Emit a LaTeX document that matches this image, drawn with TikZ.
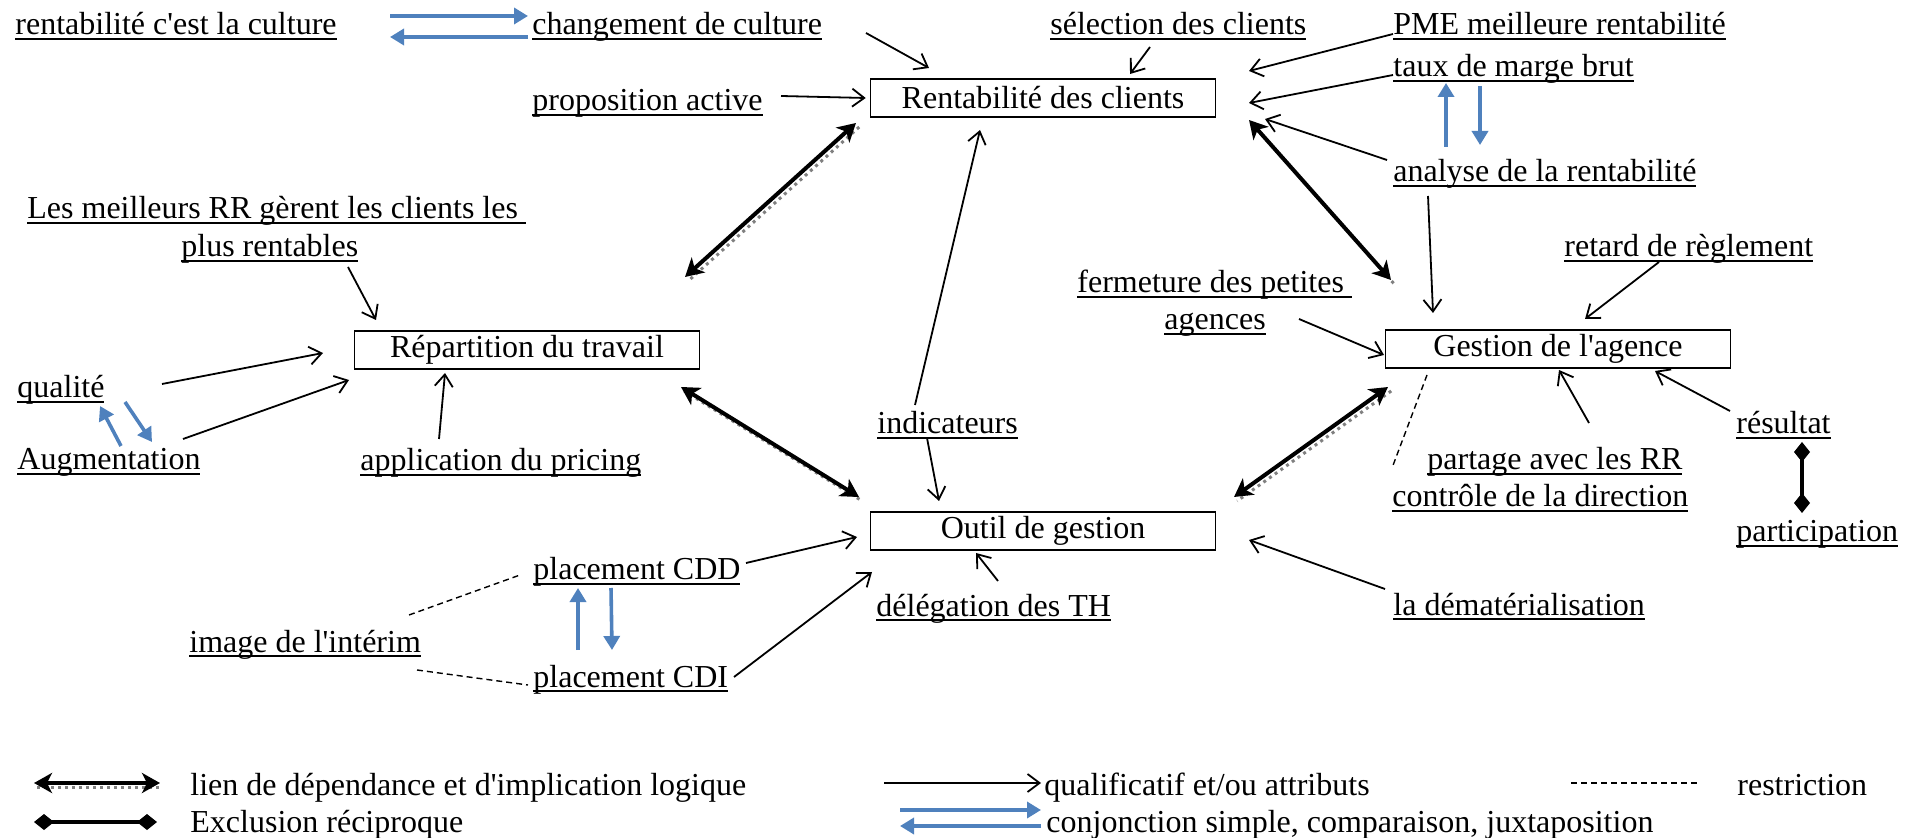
\documentclass[tikz,border=0pt]{standalone}
\usepackage{fontspec}
\setmainfont{Liberation Serif}
\usepackage{tikz}
\usetikzlibrary{arrows.meta,calc}
\definecolor{conj}{HTML}{4F81BD}
\newsavebox\ulbox
\newcommand{\souligne}[1]{\raisebox{-1.5pt}{\sbox\ulbox{#1}\usebox\ulbox\llap{\rule[-2.4pt]{\wd\ulbox}{1pt}}}}
\tikzset{
  boite/.style={draw,line width=0.8pt,minimum width=172.5pt,minimum height=19pt,inner sep=0pt},
  etiq/.style={anchor=base west,inner sep=0pt},
  qualif/.style={line width=0.9pt,-{Straight Barb[length=6pt,width=9pt]}},
  lien/.style={line width=2pt,{Stealth[length=9pt,width=10pt,inset=2.5pt]}-{Stealth[length=9pt,width=10pt,inset=2.5pt]},
    preaction={-,draw=black!50,dotted,line width=1.5pt,transform canvas={shift={(1.6pt,-2pt)}}}},
  conjonction/.style={draw=conj,line width=1.8pt,-{Triangle[length=7pt,width=8pt]}},
  exclusion/.style={line width=1.6pt,{Diamond[length=10pt,width=8pt]}-{Diamond[length=10pt,width=8pt]}},
  restriction/.style={line width=0.7pt,dash pattern=on 3pt off 2pt},
}
\begin{document}
\begin{tikzpicture}[x=0.5pt,y=-0.5pt,font=\fontsize{16}{19}\selectfont]
  \useasboundingbox (0,0) rectangle (1925,838);
  % les quatre concepts
  \node[boite] (rent)   at (1043,98)  {\raisebox{-1pt}{Rentabilité des clients}};
  \node[boite] (repart) at (527,350)  {\raisebox{-1pt}{Répartition du travail}};
  \node[boite] (gest)   at (1558,349) {\raisebox{-1pt}{Gestion de l\textquotesingle agence}};
  \node[boite] (outil)  at (1043,531) {\raisebox{-1pt}{Outil de gestion}};
  % attributs
  \node[etiq] (cult)     at (15,32)    {\souligne{rentabilité c\textquotesingle est la culture}};
  \node[etiq] (chg)      at (532,32)   {\souligne{changement de culture}};
  \node[etiq] (prop)     at (532,108)  {\souligne{proposition active}};
  \node[etiq] (sel)      at (1050,32)  {\souligne{sélection des clients}};
  \node[etiq] (pme)      at (1393,32)  {\souligne{PME meilleure rentabilité}};
  \node[etiq] (taux)     at (1393,74)  {\souligne{taux de marge brut}};
  \node[etiq] (anal)     at (1393,179) {\souligne{analyse de la rentabilité}};
  \node[etiq] (best1)    at (27,216)   {\souligne{Les meilleurs RR gèrent les clients les }};
  \node[etiq] (best2)    at (181,254)  {\souligne{plus rentables}};
  \node[etiq] (qual)     at (17,395)   {\souligne{qualité}};
  \node[etiq] (augm)     at (17,467)   {\souligne{Augmentation}};
  \node[etiq] (pric)     at (360,468)  {\souligne{application du pricing}};
  \node[etiq] (indic)    at (877,431)  {\souligne{indicateurs}};
  \node[etiq] (ferm1)    at (1077,290) {\souligne{fermeture des petites }};
  \node[etiq] (ferm2)    at (1164,327) {\souligne{agences}};
  \node[etiq] (retard)   at (1564,254) {\souligne{retard de règlement}};
  \node[etiq] (resul)    at (1736,431) {\souligne{résultat}};
  \node[etiq] (partage)  at (1427,467) {\souligne{partage avec les RR}};
  \node[etiq] (controle) at (1392,504) {\souligne{contrôle de la direction}};
  \node[etiq] (partic)   at (1736,539) {\souligne{participation}};
  \node[etiq] (cdd)      at (533,577)  {\souligne{placement CDD}};
  \node[etiq] (cdi)      at (533,684)  {\souligne{placement CDI}};
  \node[etiq] (interim)  at (189,649)  {\souligne{image de l\textquotesingle intérim}};
  \node[etiq] (deleg)    at (876,613)  {\souligne{délégation des TH}};
  \node[etiq] (demat)    at (1393,612) {\souligne{la dématérialisation}};
  % qualificatifs
  \draw[qualif] ($(chg.base west)+(334,1)$) -- ($(rent.center)+(-114,-30)$);
  \draw[qualif] ($(prop.base west)+(249,-12)$) -- ($(rent.west)+(-4,0)$);
  \draw[qualif] ($(sel.base west)+(100,15)$) -- ($(rent.center)+(87,-24)$);
  \draw[qualif] ($(pme.base west)+(0,2)$) -- ($(rent.center)+(206,-27)$);
  \draw[qualif] ($(taux.base west)+(0,1)$) -- ($(rent.center)+(206,5)$);
  \draw[qualif] ($(anal.base west)+(-6,-19)$) -- ($(rent.center)+(222,21)$);
  \draw[qualif] ($(indic.base west)+(38,-26)$) -- ($(rent.center)+(-63,32)$);
  \draw[qualif] ($(best2.base west)+(167,13)$) -- ($(repart.center)+(-151,-30)$);
  \draw[qualif] ($(qual.base west)+(145,-11)$) -- ($(repart.center)+(-204,3)$);
  \draw[qualif] ($(augm.base west)+(166,-28)$) -- ($(repart.center)+(-178,30)$);
  \draw[qualif] ($(pric.base west)+(79,-29)$) -- ($(repart.center)+(-82,23)$);
  \draw[qualif] ($(anal.base west)+(35,17)$) -- ($(gest.center)+(-125,-36)$);
  \draw[qualif] ($(ferm2.base west)+(135,-8)$) -- ($(gest.center)+(-174,6)$);
  \draw[qualif] ($(retard.base west)+(95,8)$) -- ($(gest.center)+(27,-30)$);
  \draw[qualif] ($(partage.base west)+(162,-44)$) -- ($(gest.center)+(1,21)$);
  \draw[qualif] ($(resul.base west)+(-6,-20)$) -- ($(gest.center)+(97,22)$);
  \draw[qualif] ($(indic.base west)+(50,7)$) -- ($(outil.center)+(-104,-30)$);
  \draw[qualif] ($(cdd.base west)+(213,-14)$) -- ($(outil.center)+(-186,6)$);
  \draw[qualif] ($(cdi.base west)+(201,-7)$) -- ($(outil.center)+(-171,41)$);
  \draw[qualif] ($(deleg.base west)+(122,-32)$) -- ($(outil.center)+(-67,22)$);
  \draw[qualif] ($(demat.base west)+(-8,-23)$) -- ($(outil.center)+(206,9)$);
  % dependances
  \draw[lien] ($(rent.center)+(-187,25)$) -- ($(repart.center)+(158,-73)$);
  \draw[lien] ($(rent.center)+(206,22)$) -- ($(gest.center)+(-167,-69)$);
  \draw[lien] ($(repart.center)+(154,37)$) -- ($(outil.center)+(-184,-34)$);
  \draw[lien] ($(gest.center)+(-170,38)$) -- ($(outil.center)+(191,-34)$);
  % conjonctions
  \draw[conjonction] ($(cult.base west)+(375,-16)$) -- ($(chg.base west)+(-4,-16)$);
  \draw[conjonction] ($(chg.base west)+(-4,5)$) -- ($(cult.base west)+(375,5)$);
  \draw[conjonction] ($(anal.base west)+(53,-32)$) -- ($(taux.base west)+(53,9)$);
  \draw[conjonction] ($(taux.base west)+(87,12)$) -- ($(anal.base west)+(87,-34)$);
  \draw[conjonction] ($(augm.base west)+(104,-21)$) -- ($(qual.base west)+(83,11)$);
  \draw[conjonction] ($(qual.base west)+(108,7)$) -- ($(augm.base west)+(135,-25)$);
  \draw[conjonction] ($(cdi.base west)+(45,-34)$) -- ($(cdd.base west)+(45,11)$);
  \draw[conjonction] ($(cdd.base west)+(78,11)$) -- ($(cdi.base west)+(79,-34)$);
  % restrictions et exclusion
  \draw[restriction] ($(gest.center)+(-131,26)$) -- ($(controle.base west)+(0,-36)$);
  \draw[restriction] ($(interim.base west)+(220,-34)$) -- ($(cdd.base west)+(-13,-2)$);
  \draw[restriction] ($(interim.base west)+(228,21)$) -- ($(cdi.base west)+(-5,1)$);
  \draw[exclusion] ($(resul.base west)+(66,11)$) -- ($(partic.base west)+(66,-26)$);
  % legende
  \node[etiq] (lgLien)  at (190,795)  {lien de dépendance et d\textquotesingle implication logique};
  \node[etiq] (lgQual)  at (1044,795) {qualificatif et/ou attributs};
  \node[etiq] (lgRestr) at (1737,795) {restriction};
  \node[etiq] (lgExcl)  at (190,832)  {Exclusion réciproque};
  \node[etiq] (lgConj)  at (1046,832) {conjonction simple, comparaison, juxtaposition};
  \draw[lien] ($(lgLien.base west)+(-156,-12)$) -- ($(lgLien.base west)+(-30,-12)$);
  \draw[qualif] ($(lgQual.base west)+(-160,-12)$) -- ($(lgQual.base west)+(-3,-12)$);
  \draw[restriction] ($(lgRestr.base west)+(-166,-12)$) -- ($(lgRestr.base west)+(-37,-12)$);
  \draw[exclusion] ($(lgExcl.base west)+(-156,-10)$) -- ($(lgExcl.base west)+(-33,-10)$);
  \draw[conjonction] ($(lgConj.base west)+(-146,-22)$) -- ($(lgConj.base west)+(-5,-22)$);
  \draw[conjonction] ($(lgConj.base west)+(-5,-6)$) -- ($(lgConj.base west)+(-146,-6)$);
\end{tikzpicture}
\end{document}
